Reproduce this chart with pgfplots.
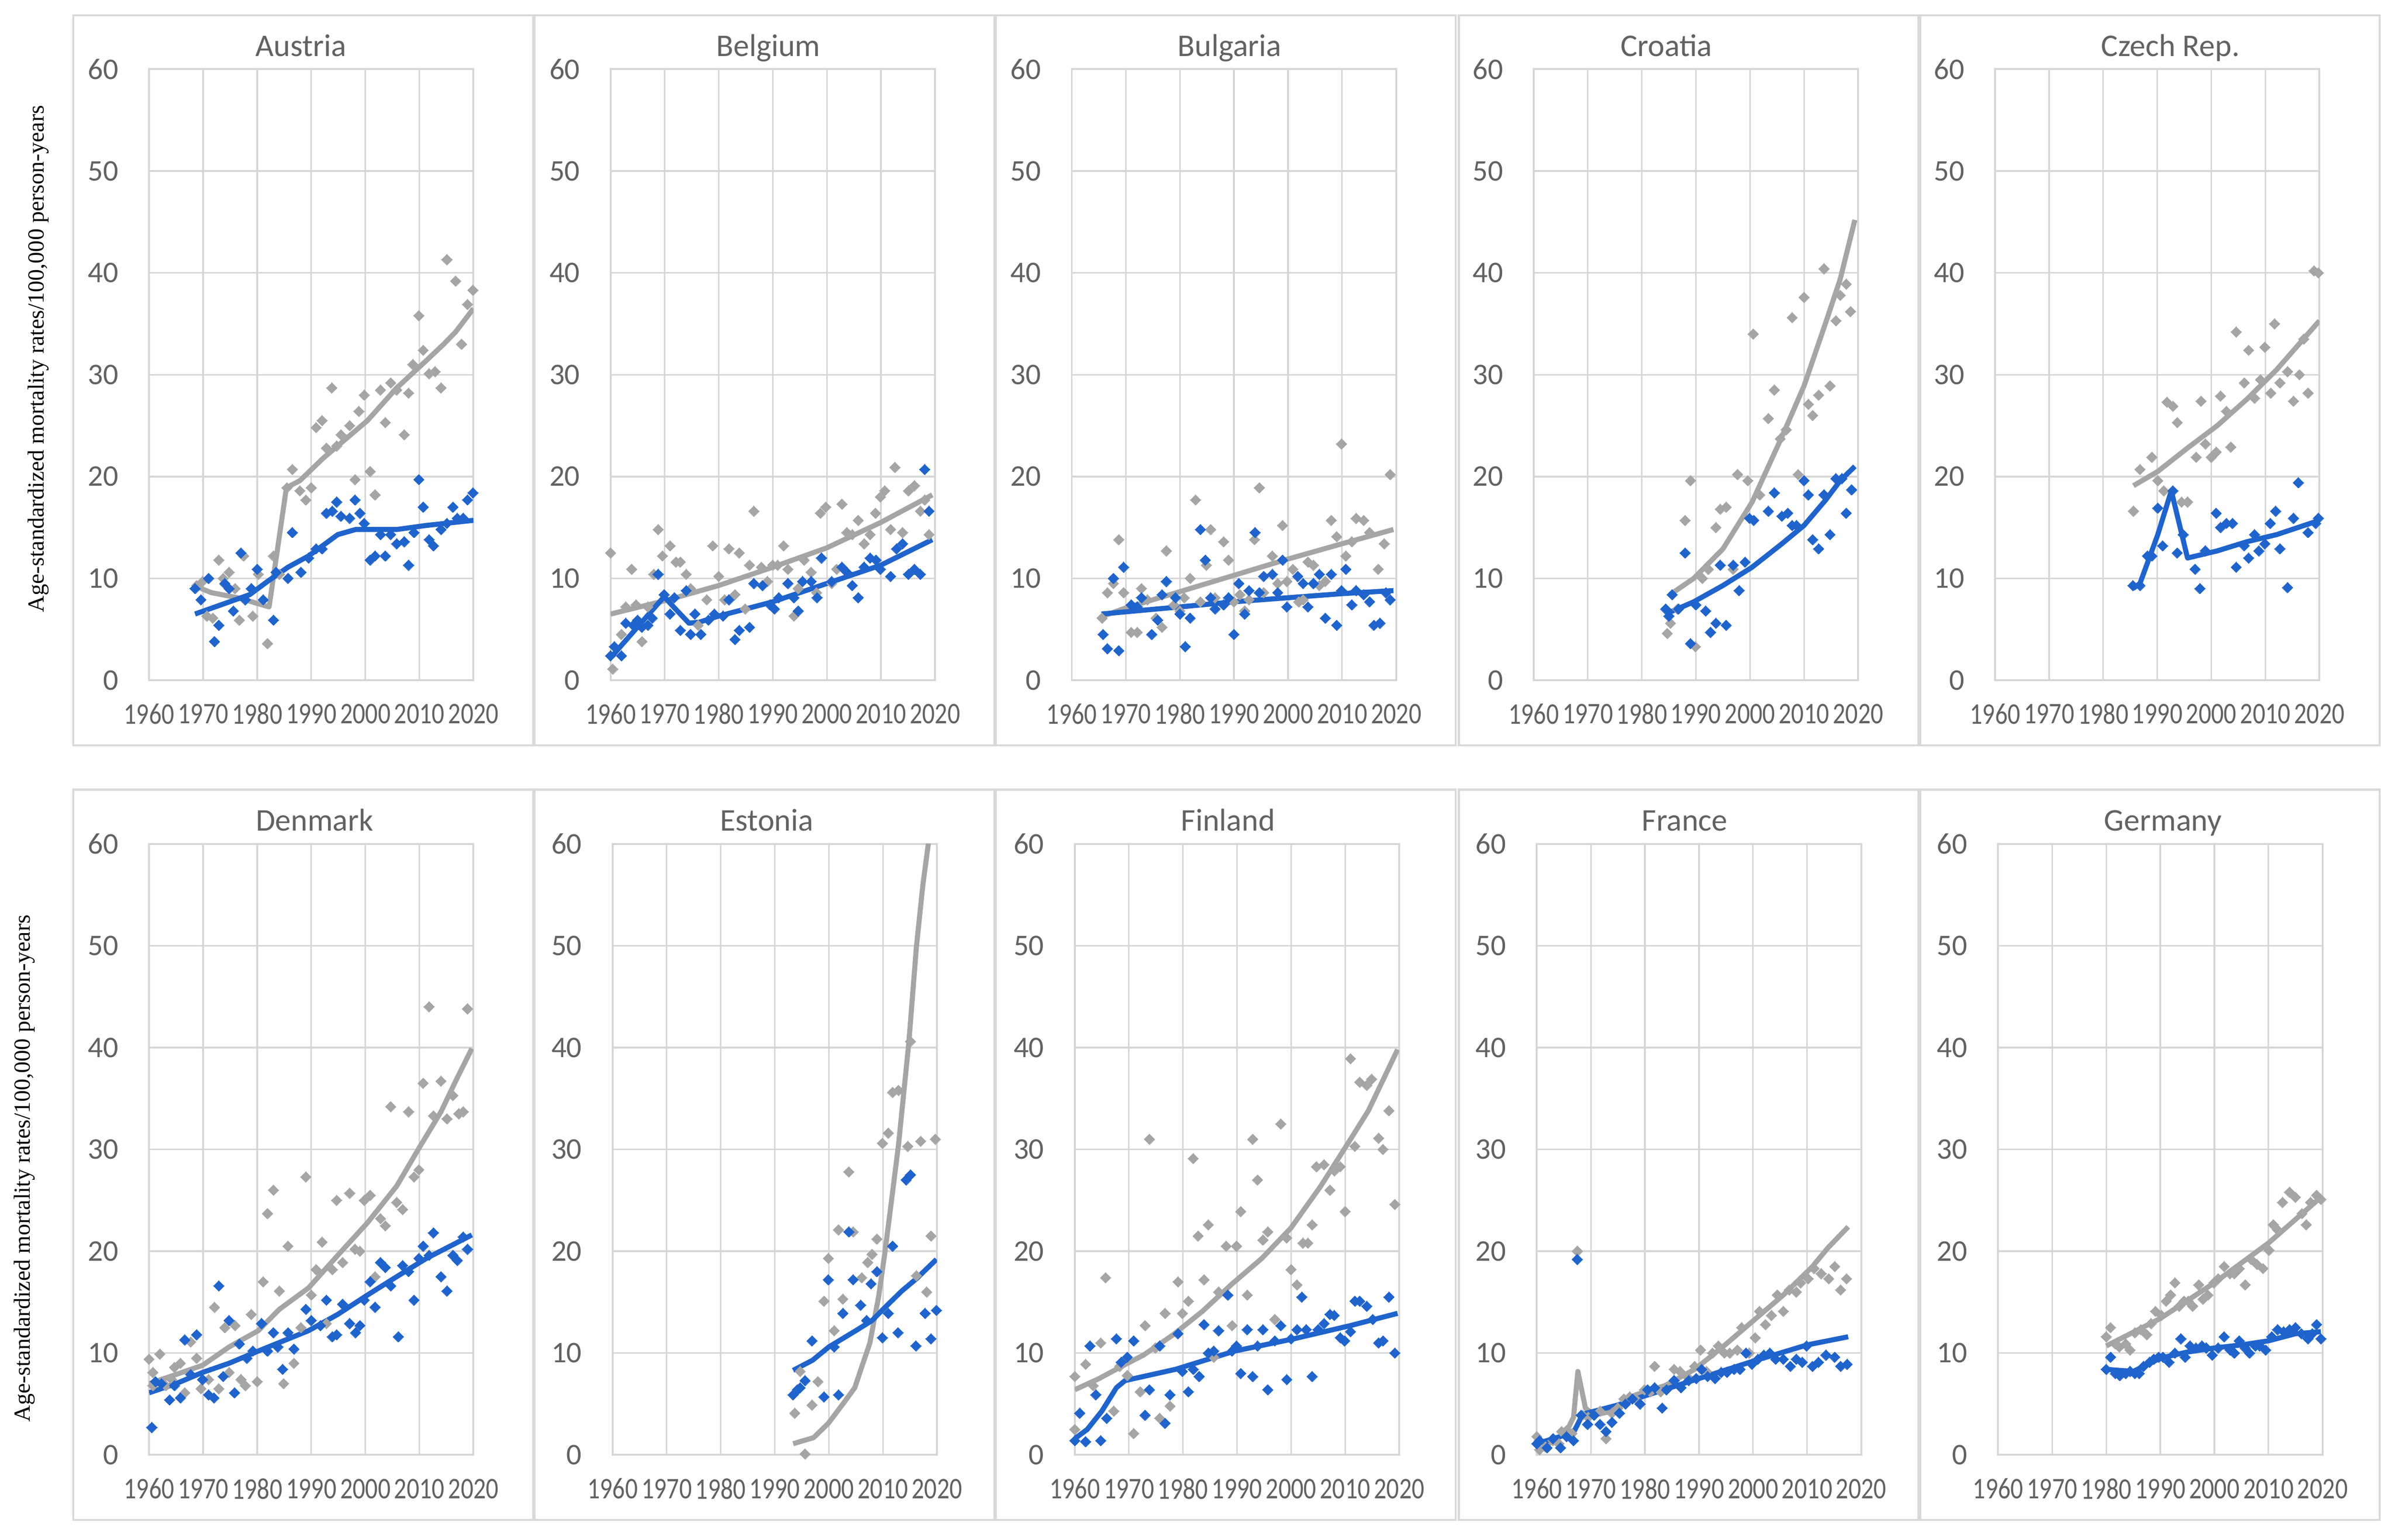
\documentclass[border=0pt]{standalone}
\usepackage{pgfplots}
\pgfplotsset{compat=1.18}
\usepackage{fontspec}
\setmainfont{Carlito}
\newfontfamily\ylfont{Liberation Serif}

\definecolor{gser}{HTML}{A5A5A5}
\definecolor{bser}{HTML}{1F63CC}
\definecolor{gridc}{HTML}{D6D6D6}
\definecolor{tickc}{HTML}{626262}
\definecolor{framec}{HTML}{D9D9D9}

\pgfplotsset{
  panel/.style={
    scale only axis, width=3.61cm, height=6.80cm, anchor=south west,
    xmin=1960, xmax=2020, ymin=0, ymax=60,
    xtick={1960,1970,...,2020}, ytick={0,10,...,60},
    xticklabels={1960,1970,1980,1990,2000,2010,2020},
    grid=major, major grid style={draw=gridc, line width=0.5pt},
    axis line style={draw=gridc, line width=0.6pt},
    tick style={draw=none},
    /pgf/number format/assume math mode=true,
    ticklabel style={font=\fontsize{9.5}{10}\selectfont, text=tickc, inner sep=0pt},
    xticklabel style={anchor=center, yshift=-0.376cm, xscale=0.83},
    yticklabel style={anchor=east, xshift=-0.335cm},
  },
  gpt/.style={only marks, mark=square*, mark size=1.2pt, color=gser, mark options={rotate=45, fill=gser, draw=gser, line width=0pt}},
  bpt/.style={only marks, mark=square*, mark size=1.2pt, color=bser, mark options={rotate=45, fill=bser, draw=bser, line width=0pt}},
  gln/.style={no marks, color=gser, line width=1.6pt, line join=round},
  bln/.style={no marks, color=bser, line width=1.6pt, line join=round},
}

\begin{document}
\begin{tikzpicture}

\begin{scope}[x=0.017cm, y=-0.017cm, yshift=17.136cm,
    ttl/.style={text=tickc, font=\fontsize{10}{12}\selectfont, text height=1.6ex, text depth=0.45ex}]
  \path[use as bounding box] (0,0) rectangle (1568,1008);
  \foreach \xx in {48,350,652,955,1257} {
    \draw[framec, line width=0.7pt] (\xx,10) rectangle ++(301,478);
    \draw[framec, line width=0.7pt] (\xx,517) rectangle ++(301,478);
  }
  \node[ttl] at (197,31.3) {Austria};
  \node[ttl] at (503,31.3) {Belgium};
  \node[ttl] at (805,31.3) {Bulgaria};
  \node[ttl] at (1091,31.3) {Croatia};
  \node[ttl] at (1421,31.3) {Czech Rep.};
  \node[ttl] at (206,538.4) {Denmark};
  \node[ttl] at (502,538.4) {Estonia};
  \node[ttl] at (804,538.4) {Finland};
  \node[ttl] at (1103,538.4) {France};
  \node[ttl] at (1416,538.4) {Germany};
  \node[rotate=90, font=\ylfont\fontsize{7.3}{8}\selectfont] at (25,235) {Age-standardized mortality rates/100,000 person-years};
  \node[rotate=90, font=\ylfont\fontsize{7.3}{8}\selectfont] at (16,765) {Age-standardized mortality rates/100,000 person-years};
\end{scope}

% ---------------- Austria
\begin{axis}[panel, at={(1.659cm,9.566cm)}]
\addplot[gpt] coordinates {(1968.8,9.3)(1969.9,9.7)(1970.7,6.3)(1971.8,6.1)(1972.9,11.8)(1973.7,10.0)(1974.8,10.6)(1975.9,9.0)(1976.7,5.9)(1977.5,12.2)(1979.2,6.3)(1980.2,10.4)(1981.9,3.6)(1983.0,12.2)(1984.1,10.4)(1985.5,18.9)(1986.5,20.7)(1987.9,18.6)(1989.0,17.7)(1990.0,18.9)(1990.9,24.8)(1992.0,25.5)(1992.8,22.8)(1993.8,28.7)(1994.7,23.0)(1995.5,24.1)(1997.1,25.0)(1998.1,19.7)(1998.8,26.4)(1999.8,28.0)(2000.9,20.5)(2001.8,18.2)(2002.8,28.5)(2003.7,25.3)(2004.7,29.2)(2005.8,28.5)(2007.2,24.1)(2008.0,28.2)(2008.8,31.0)(2009.9,35.8)(2010.7,32.4)(2011.8,30.1)(2012.9,30.3)(2014.0,28.7)(2015.1,41.3)(2016.7,39.2)(2017.8,33.0)(2018.9,36.9)(2019.9,38.3)};
\addplot[bpt] coordinates {(1968.5,9.0)(1969.6,7.9)(1971.0,10.0)(1972.1,3.8)(1972.9,5.4)(1974.0,9.5)(1974.8,9.0)(1975.6,6.8)(1977.0,12.5)(1977.8,7.9)(1978.9,9.0)(1980.0,10.9)(1981.1,7.9)(1983.0,5.9)(1983.5,10.6)(1985.7,10.0)(1986.5,14.5)(1988.1,10.6)(1989.5,12.0)(1990.9,12.9)(1992.0,12.9)(1992.8,16.4)(1993.9,16.6)(1994.7,17.5)(1995.5,16.1)(1997.1,15.9)(1998.1,17.7)(1999.0,16.4)(1999.8,15.4)(2000.9,11.8)(2001.8,12.2)(2002.8,14.3)(2003.7,12.2)(2004.7,14.3)(2005.8,13.4)(2007.2,13.6)(2008.0,11.3)(2009.0,14.5)(2009.9,19.7)(2010.7,17.0)(2011.8,13.8)(2012.6,13.2)(2014.0,14.8)(2015.1,15.4)(2016.2,17.0)(2017.0,15.9)(2018.1,15.9)(2018.9,17.7)(2019.9,18.4)};
\addplot[gln] coordinates {(1968.3,9.3)(1971.5,8.6)(1976.4,8.1)(1982.2,7.2)(1985.4,18.9)(1987.9,19.6)(1992.2,21.8)(2000.4,25.5)(2005.8,28.7)(2011.3,31.4)(2014.5,33.0)(2016.7,34.2)(2020,36.5)};
\addplot[bln] coordinates {(1968.5,6.5)(1978.6,8.4)(1981.9,9.7)(1985.7,11.1)(1989.5,12.2)(1994.9,14.3)(1998.2,14.8)(2005.8,14.8)(2011.3,15.2)(2020,15.7)};
\end{axis}

% ---------------- Belgium
\begin{axis}[panel, at={(6.795cm,9.566cm)}]
\addplot[gpt] coordinates {(1960,12.5)(1960.4,1.1)(1962,4.5)(1962.8,7.2)(1963.9,10.9)(1964.7,7.4)(1965.8,3.8)(1966.9,7.2)(1968,10.4)(1968.8,14.8)(1969.6,12.2)(1971,13.2)(1972.1,11.6)(1972.9,11.6)(1974,10.4)(1974.8,9.0)(1976.2,5.4)(1977.8,7.9)(1978.9,13.2)(1980,10.2)(1981.1,7.9)(1981.9,12.9)(1983,8.4)(1983.8,12.5)(1984.9,7.0)(1985.7,11.3)(1986.5,16.6)(1987.9,11.1)(1989,9.7)(1990,11.3)(1990.9,11.3)(1992,13.2)(1992.8,10.9)(1993.9,6.3)(1994.7,9.0)(1995.8,11.8)(1997.1,10.6)(1998.1,8.6)(1998.8,16.4)(1999.8,17.0)(2000.9,9.5)(2001.8,10.9)(2002.8,17.3)(2003.7,14.5)(2004.7,14.3)(2005.8,15.7)(2006.9,13.4)(2008,14.3)(2009,16.4)(2009.9,18.0)(2010.7,18.6)(2011.8,14.8)(2012.6,20.9)(2014,14.5)(2015.1,18.6)(2016.2,19.1)(2017.3,16.6)(2018.1,17.7)(2018.9,14.3)};
\addplot[bpt] coordinates {(1960,2.4)(1960.7,3.3)(1962,2.4)(1962.8,5.6)(1964.2,5.4)(1965,5.9)(1965.8,5.2)(1966.9,5.4)(1967.7,6.1)(1968.8,10.4)(1969.9,8.4)(1971,6.5)(1971.8,8.1)(1972.9,4.9)(1974,8.8)(1974.8,4.5)(1975.6,6.5)(1976.7,4.5)(1978.1,5.9)(1979.2,6.5)(1980.8,6.3)(1981.9,7.9)(1983,4.0)(1983.8,4.9)(1985.7,5.2)(1986.5,9.5)(1988.1,9.3)(1989.5,7.4)(1990.3,7.0)(1991.1,8.1)(1992.8,9.5)(1993.9,8.1)(1994.7,6.8)(1995.5,9.7)(1997.1,9.7)(1998.2,8.1)(1999,12.0)(2000.9,9.7)(2002.8,11.1)(2003.7,10.6)(2004.7,9.3)(2005.8,8.1)(2006.9,11.1)(2008,12.0)(2009.1,11.8)(2009.9,10.9)(2011.8,10.2)(2012.9,12.9)(2014,13.4)(2015.1,10.4)(2016.2,10.9)(2017.3,10.4)(2018.1,20.7)(2018.9,16.6)};
\addplot[gln] coordinates {(1960,6.5)(1970,7.8)(1980,9.3)(1990,11.1)(2000,13.0)(2010,15.5)(2019.5,18.2)};
\addplot[bln] coordinates {(1960,2.2)(1962.3,3.6)(1969.9,8.2)(1972,7.0)(1974.5,5.6)(1976.4,5.7)(1980,6.3)(1990,7.7)(2000,9.5)(2010,11.3)(2019.5,13.8)};
\end{axis}

% ---------------- Bulgaria
\begin{axis}[panel, at={(11.927cm,9.566cm)}]
\addplot[gpt] coordinates {(1965.6,6.1)(1966.6,8.6)(1967.7,9.5)(1968.7,13.8)(1969.6,8.6)(1971,4.7)(1972.1,4.7)(1972.9,9.0)(1974,7.9)(1975.6,6.1)(1976.7,5.2)(1977.5,12.7)(1978.9,7.4)(1980,6.8)(1980.8,8.1)(1981.9,10.0)(1982.9,17.7)(1983.8,7.7)(1984.9,11.3)(1985.7,14.8)(1986.5,8.1)(1988.1,13.6)(1989,11.8)(1990,7.7)(1991.1,8.4)(1992,6.8)(1992.8,7.9)(1993.8,13.8)(1994.7,18.9)(1995.5,8.6)(1997.1,12.2)(1998.1,9.5)(1999,15.2)(1999.8,9.7)(2000.9,10.9)(2002,7.7)(2002.8,7.9)(2003.7,11.6)(2004.7,11.3)(2005.8,9.3)(2006.9,9.7)(2008,15.7)(2009,14.1)(2009.9,23.2)(2010.7,12.2)(2011.8,13.6)(2012.6,15.9)(2014,15.7)(2015.1,14.5)(2016.7,10.9)(2017.8,13.4)(2018.9,20.2)};
\addplot[bpt] coordinates {(1965.8,4.5)(1966.6,3.1)(1967.7,10.0)(1968.7,2.9)(1969.6,11.1)(1971,7.4)(1972.1,7.2)(1972.9,8.1)(1974.8,4.5)(1975.9,5.9)(1976.7,8.4)(1977.5,9.7)(1979.2,8.1)(1980,6.5)(1981,3.3)(1981.9,6.1)(1983.8,14.8)(1984.7,11.8)(1985.7,8.1)(1986.5,7.0)(1988.1,7.4)(1989,8.1)(1990,4.5)(1990.9,9.5)(1992,6.5)(1992.8,8.8)(1993.9,14.5)(1994.7,8.6)(1995.5,10.2)(1997.1,10.4)(1998.1,8.6)(1999,11.8)(1999.8,7.2)(2001.8,10.2)(2002.8,9.5)(2003.7,7.2)(2004.7,9.5)(2005.8,10.4)(2006.9,6.1)(2008,10.4)(2009,5.4)(2009.9,8.8)(2010.7,10.9)(2011.8,7.4)(2012.6,8.8)(2014,8.4)(2015.1,7.7)(2015.9,5.4)(2017,5.6)(2018.1,8.6)(2018.9,7.9)};
\addplot[gln] coordinates {(1965.3,6.2)(1970,7.1)(1980,8.7)(1990,10.3)(2000,11.9)(2010,13.4)(2019.5,14.8)};
\addplot[bln] coordinates {(1965.5,6.5)(1980,7.2)(1990,7.7)(2000,8.1)(2010,8.5)(2019.5,8.8)};
\end{axis}

% ---------------- Croatia
\begin{axis}[panel, at={(17.068cm,9.566cm)}]
\addplot[gpt] coordinates {(1984.7,4.6)(1985.3,5.6)(1986.6,7.0)(1988,15.7)(1989,19.6)(1989.9,3.3)(1991.2,10.0)(1992.3,10.9)(1993.7,15.0)(1994.5,16.8)(1995.6,17.0)(1996.9,10.9)(1997.7,20.2)(1999.6,19.6)(2000.6,34.0)(2001.8,18.2)(2003.4,25.7)(2004.5,28.5)(2005.6,23.7)(2006.7,24.6)(2007.8,35.6)(2008.9,20.2)(2010,37.6)(2010.8,27.1)(2011.6,26.0)(2012.7,28.0)(2013.7,40.4)(2014.8,28.9)(2015.9,35.3)(2016.7,37.8)(2017.8,38.9)(2018.6,36.2)};
\addplot[bpt] coordinates {(1984.4,7.0)(1985,6.3)(1985.6,8.4)(1986.8,7.0)(1988,12.5)(1989,3.6)(1990,7.4)(1991.8,6.8)(1992.7,4.7)(1993.7,5.6)(1994.5,11.3)(1995.6,5.4)(1996.9,11.3)(1998,8.8)(1999.1,11.6)(1999.9,15.9)(2000.7,15.7)(2003.4,16.6)(2004.5,18.4)(2005.9,16.1)(2007,16.4)(2007.8,15.2)(2008.6,15.2)(2010,19.6)(2010.8,18.2)(2011.6,13.8)(2012.7,12.9)(2013.7,18.2)(2014.8,14.3)(2015.9,19.8)(2017,19.8)(2017.8,16.4)(2018.8,18.7)};
\addplot[gln] coordinates {(1985.2,8.4)(1989.6,10.0)(1995,12.9)(2000.4,17.5)(2005.9,23.9)(2010,28.9)(2014,35.1)(2016.7,39.4)(2019.4,45.2)};
\addplot[bln] coordinates {(1984.4,6.5)(1989.6,7.7)(1995,9.3)(2000.4,11.1)(2005.9,13.4)(2010,15.2)(2014,17.7)(2016.7,19.6)(2019.4,21.0)};
\end{axis}

% ---------------- Czech Rep.
\begin{axis}[panel, at={(22.202cm,9.566cm)}]
\addplot[gpt] coordinates {(1985.6,16.6)(1986.8,20.7)(1989,21.9)(1990.1,19.6)(1991.2,18.6)(1991.8,27.3)(1992.9,26.9)(1993.7,25.3)(1994.5,17.5)(1995.6,17.5)(1997.2,21.9)(1998.1,27.4)(1998.9,23.2)(2000,21.9)(2000.9,22.4)(2001.7,27.9)(2002.8,26.4)(2003.6,22.9)(2004.6,34.2)(2006.1,29.2)(2006.9,32.4)(2008,27.7)(2009.1,29.5)(2009.9,32.7)(2011,28.2)(2011.7,35.0)(2012.7,29.2)(2014.1,30.3)(2015.2,27.4)(2016.3,30.0)(2017.1,33.5)(2017.9,28.2)(2019,40.2)(2019.8,40.0)};
\addplot[bpt] coordinates {(1985.5,9.3)(1986.8,9.3)(1988.2,12.2)(1989,12.2)(1990.1,16.9)(1991,13.2)(1992.9,18.6)(1993.7,12.5)(1994.8,14.3)(1997,10.9)(1997.9,9.0)(1998.9,12.7)(2000.9,16.4)(2001.7,15.0)(2002.8,15.4)(2003.9,15.4)(2004.6,11.1)(2006.1,13.2)(2006.9,12.0)(2008,14.3)(2008.8,12.7)(2009.9,13.4)(2010.9,15.4)(2011.9,16.6)(2012.7,12.9)(2014.1,9.1)(2015.2,15.9)(2016.1,19.4)(2017.9,14.5)(2019.3,15.4)(2019.8,15.9)};
\addplot[gln] coordinates {(1985.6,19.1)(1990.1,20.5)(1995.6,22.8)(2001.1,25.0)(2006.6,27.6)(2012.1,30.5)(2020,35.3)};
\addplot[bln] coordinates {(1985.5,9.0)(1986.8,9.5)(1990.1,14.3)(1992.6,18.6)(1995.6,12.0)(2001.1,12.7)(2006.6,13.6)(2012.1,14.3)(2020,15.7)};
\end{axis}

% ---------------- Denmark
\begin{axis}[panel, at={(1.659cm,0.945cm)}]
\addplot[gpt] coordinates {(1960,9.4)(1960.7,8.1)(1960.7,6.8)(1962,9.9)(1963.1,6.8)(1964.2,7.4)(1964.7,8.6)(1965.8,9.0)(1966.6,6.1)(1967.7,11.1)(1968.8,9.5)(1969.6,6.5)(1971,7.4)(1972.1,14.5)(1972.9,6.5)(1974,12.5)(1974.8,8.1)(1975.9,12.7)(1977,7.4)(1977.8,6.8)(1978.9,13.8)(1980,7.2)(1981.1,17.0)(1981.9,23.7)(1983,26.0)(1984.1,16.1)(1984.9,7.0)(1985.7,20.5)(1986.8,9.0)(1988.1,12.5)(1989,27.3)(1990,15.7)(1990.9,18.2)(1992,20.9)(1992.8,12.9)(1993.9,18.2)(1994.7,25.0)(1995.8,18.9)(1997.1,25.7)(1998.1,20.2)(1999,20.0)(1999.8,25.0)(2000.9,25.5)(2001.8,17.5)(2002.8,23.2)(2003.7,22.5)(2004.7,34.2)(2005.8,24.8)(2006.9,24.1)(2008,33.7)(2009,27.3)(2009.9,28.0)(2010.7,36.5)(2011.8,44.0)(2012.6,33.3)(2014,36.7)(2015.1,33.0)(2016.2,35.3)(2017.3,33.5)(2018.1,33.7)(2018.9,43.8)};
\addplot[bpt] coordinates {(1960.5,2.7)(1961.2,7.2)(1962.3,7.0)(1963.8,5.4)(1964.7,6.8)(1965.8,5.6)(1966.6,11.3)(1967.7,7.9)(1968.8,11.8)(1969.9,7.4)(1971,5.9)(1972,5.6)(1972.9,16.6)(1973.7,7.7)(1974.8,13.2)(1975.8,6.1)(1976.7,10.9)(1978.1,9.5)(1979.2,10.2)(1980.8,12.9)(1981.9,10.2)(1983,12.0)(1983.8,10.6)(1984.7,8.4)(1985.7,12.0)(1986.8,10.4)(1989,14.3)(1990,13.2)(1991.7,12.7)(1992.8,15.2)(1993.9,11.6)(1994.7,11.8)(1995.8,14.8)(1997.1,12.9)(1998.2,12.0)(1999,12.7)(1999.8,15.2)(2000.9,17.0)(2001.8,14.5)(2002.8,18.9)(2003.7,18.4)(2004.7,16.6)(2006.1,11.6)(2006.9,18.6)(2008,18.0)(2009,15.2)(2009.9,19.3)(2010.7,20.5)(2011.8,19.6)(2012.6,21.8)(2014,17.5)(2015.1,16.1)(2016.2,19.6)(2017,19.1)(2018.1,21.4)(2018.9,20.2)};
\addplot[gln] coordinates {(1960,7.0)(1965,7.9)(1969.9,8.8)(1974.8,10.6)(1980.2,12.2)(1984.1,14.3)(1989.5,16.4)(1994.9,19.6)(2000.4,22.8)(2005.8,26.4)(2009.9,30.1)(2014,33.7)(2016.7,36.7)(2019.7,39.9)};
\addplot[bln] coordinates {(1960,6.1)(1965,7.0)(1969.9,8.1)(1974.8,9.0)(1980.2,10.2)(1989.5,12.2)(1994.9,13.8)(2000.4,15.7)(2005.8,17.5)(2011.3,19.3)(2019.7,21.6)};
\end{axis}

% ---------------- Estonia
\begin{axis}[panel, at={(6.817cm,0.945cm)}]
\addplot[gpt] coordinates {(1993.7,4.1)(1994.7,8.2)(1995.6,0.1)(1996.9,4.9)(1998,7.2)(1999.1,15.1)(1999.9,19.3)(2001,12.2)(2001.8,22.1)(2002.6,15.3)(2003.7,27.8)(2004.5,21.9)(2006.1,17.4)(2007.2,18.9)(2008,19.7)(2008.9,21.2)(2009.9,30.6)(2011,31.6)(2011.8,35.6)(2012.9,35.8)(2014.6,30.3)(2015.1,40.6)(2016.2,17.6)(2017,30.8)(2018.1,16.0)(2018.9,21.5)(2019.7,31.0)};
\addplot[bpt] coordinates {(1993.4,5.9)(1994.2,6.4)(1994.7,6.6)(1995.6,7.3)(1996.9,11.2)(1999.1,5.7)(1999.9,17.2)(2001,10.6)(2001.8,5.9)(2002.6,13.9)(2003.7,21.9)(2004.5,17.2)(2005.9,14.7)(2007,13.2)(2007.8,16.8)(2008.9,18.0)(2009.9,11.5)(2011,13.9)(2011.8,20.5)(2012.8,12.0)(2014.3,27.0)(2015.1,27.5)(2016.1,10.7)(2017.8,13.9)(2018.9,11.4)(2019.9,14.2)};
\addplot[gln] coordinates {(1993.4,1.1)(1997.2,1.7)(1999.9,3.1)(2002.6,5.0)(2004.8,6.6)(2006.0,8.5)(2007.6,11.0)(2008.3,13.0)(2009.2,15.5)(2010.3,19.6)(2011.6,25.0)(2012.9,30.5)(2014.8,40.5)(2016.2,49.9)(2017.4,56.0)(2018.4,60.0)(2019,64.0)};
\addplot[bln] coordinates {(1993.4,8.3)(1997,9.3)(2000,10.6)(2005.3,12.3)(2008,13.2)(2010.8,14.7)(2013.5,16.1)(2016.2,17.3)(2019.9,19.2)};
\end{axis}

% ---------------- Finland
\begin{axis}[panel, at={(11.961cm,0.945cm)}]
\addplot[gpt] coordinates {(1960,7.7)(1960,2.5)(1962,8.9)(1963.4,6.8)(1964.8,11.0)(1965.7,17.4)(1967.2,4.3)(1968.3,8.7)(1969.7,7.8)(1970.9,2.1)(1972.1,6.2)(1973,12.7)(1973.8,31.0)(1974.9,10.5)(1975.7,3.6)(1976.7,13.9)(1977.6,4.8)(1979.1,17.0)(1979.9,13.9)(1981,15.1)(1981.9,29.1)(1982.8,21.5)(1983.9,17.2)(1984.7,22.6)(1985.7,9.6)(1986.6,16.0)(1988,20.5)(1989.1,12.7)(1989.9,20.5)(1990.7,23.9)(1991.9,15.7)(1992.9,31.0)(1993.8,27.0)(1994.8,21.1)(1995.7,21.9)(1997,13.3)(1998.1,32.5)(1999.2,21.3)(2000,18.2)(2001.1,16.7)(2002.2,20.8)(2003.1,20.8)(2003.9,22.6)(2004.7,28.3)(2006.1,28.5)(2007.2,26.0)(2008,27.9)(2009.1,28.3)(2010,23.9)(2011,38.9)(2011.8,30.3)(2012.7,36.6)(2014,36.3)(2014.9,36.9)(2016.2,31.1)(2017,30.0)(2018.1,33.8)(2019.2,24.6)};
\addplot[bpt] coordinates {(1960,1.4)(1960.9,4.1)(1962,1.3)(1962.8,10.7)(1963.9,5.9)(1964.8,1.4)(1965.9,3.6)(1967.7,11.4)(1968.6,9.1)(1969.7,9.6)(1970.9,11.2)(1973,3.9)(1973.8,6.4)(1975.7,10.7)(1976.7,3.1)(1977.6,5.9)(1979.1,11.9)(1979.9,8.2)(1981,6.2)(1981.9,8.4)(1983,7.7)(1983.9,12.8)(1984.7,10.0)(1985.7,10.2)(1986.6,12.2)(1988.3,15.7)(1989.1,10.2)(1989.9,10.7)(1990.7,8.0)(1991.9,12.3)(1992.9,7.7)(1993.8,10.7)(1994.8,12.3)(1995.7,6.4)(1997,11.2)(1998.1,12.7)(1999.2,7.4)(2000,11.4)(2001.1,12.3)(2002,15.5)(2002.8,12.3)(2003.9,7.7)(2005,12.3)(2006.1,12.9)(2007.2,13.8)(2008,13.7)(2009.1,11.5)(2009.9,11.2)(2011,12.1)(2011.8,15.1)(2012.7,15.1)(2014,14.6)(2015.1,13.3)(2016.2,11.0)(2017,11.2)(2018.1,15.5)(2019.2,10.0)};
\addplot[gln] coordinates {(1960,6.4)(1964.5,7.5)(1969.4,8.9)(1972.7,9.8)(1978.2,11.8)(1983.6,14.1)(1989.1,16.8)(1994.6,19.3)(2000,22.3)(2005.5,26.4)(2011,31.0)(2014.3,33.8)(2019.7,39.8)};
\addplot[bln] coordinates {(1960,1.6)(1962.3,2.5)(1965,4.3)(1967.7,6.6)(1969.3,7.3)(1978.6,8.4)(1989.6,10.2)(2000.5,11.4)(2011,12.7)(2019.7,13.9)};
\end{axis}

% ---------------- France
\begin{axis}[panel, at={(17.102cm,0.945cm)}]
\addplot[gpt] coordinates {(1960,1.8)(1960.5,0.5)(1961.6,0.8)(1963,1.4)(1964.1,1.1)(1964.6,2.3)(1965.5,2.4)(1966.5,2.1)(1967.5,20.0)(1968.5,3.9)(1969.5,3.7)(1970.6,3.9)(1971.7,4.3)(1972.8,1.6)(1973.9,4.1)(1975,4.6)(1976.1,5.5)(1977.2,5.7)(1978.3,5.5)(1979.9,6.4)(1981,6.2)(1981.8,8.7)(1982.9,6.2)(1984,6.4)(1985.4,8.4)(1986.5,8.2)(1987.8,7.7)(1989.2,8.7)(1990.3,10.3)(1991.4,8.2)(1992.5,10.0)(1993.6,10.7)(1994.7,10.0)(1995.7,10.0)(1997.1,10.3)(1997.9,12.5)(1999.3,10.0)(2000.4,11.5)(2001.2,14.1)(2002.3,12.8)(2003.4,13.7)(2004.5,15.7)(2005.6,14.1)(2006.7,16.2)(2008,16.0)(2008.8,16.9)(2010.2,17.3)(2011.3,18.3)(2012.6,17.8)(2014,17.3)(2015.1,18.5)(2016.2,16.2)(2017.3,17.3)};
\addplot[bpt] coordinates {(1960,1.1)(1960.5,1.4)(1961.9,0.7)(1963,1.6)(1964.4,0.7)(1965.5,1.8)(1966.8,1.4)(1967.5,19.2)(1968.2,3.9)(1969.4,3.0)(1970.6,3.9)(1971.7,3.0)(1972.8,2.3)(1973.9,3.2)(1975.3,4.1)(1976.4,5.0)(1977.7,5.5)(1979.1,5.0)(1980.5,6.4)(1981.8,6.6)(1983.2,4.6)(1984,6.4)(1985.4,7.3)(1986.7,6.6)(1988.1,7.3)(1989.5,7.5)(1990.5,8.4)(1991.6,7.7)(1993,7.5)(1994.1,8.1)(1995.2,8.1)(1996.5,8.4)(1997.6,8.4)(1998.7,10.0)(1999.8,8.9)(2000.9,9.4)(2002,9.8)(2003.1,10.0)(2004.2,9.4)(2005.6,9.4)(2006.9,8.7)(2008,9.4)(2009.1,9.1)(2009.9,10.7)(2011,8.7)(2012.1,9.1)(2013.5,9.8)(2015.1,9.6)(2016.2,8.7)(2017.4,8.9)};
\addplot[gln] coordinates {(1960,1.4)(1962.3,1.1)(1965.5,2.3)(1966.8,3.7)(1967.6,8.2)(1969,4.6)(1970.6,3.9)(1973.9,4.3)(1978.3,5.9)(1983.7,6.8)(1989.2,8.4)(1994.6,10.7)(2000.1,13.2)(2005.6,15.7)(2011,18.5)(2013.8,20.3)(2017.6,22.4)};
\addplot[bln] coordinates {(1960,1.1)(1966.8,2.2)(1968.5,4.0)(1975,4.9)(1980,5.8)(1990,7.5)(2000,9.2)(2010,10.8)(2017.6,11.6)};
\end{axis}

% ---------------- Germany
\begin{axis}[panel, at={(22.236cm,0.945cm)}]
\addplot[gpt] coordinates {(1980,11.6)(1980.8,12.5)(1981.7,10.9)(1982.4,10.6)(1983.6,10.9)(1984.4,10.3)(1985.3,12.0)(1986.4,12.3)(1987.5,11.8)(1988.3,12.9)(1989.1,14.1)(1990.2,13.7)(1991.1,15.1)(1991.9,15.7)(1992.7,16.9)(1993.5,14.6)(1994.4,15.1)(1995.2,15.1)(1996,14.6)(1997.1,16.7)(1997.9,15.3)(1998.8,15.7)(1999.9,16.9)(2000.7,17.3)(2001.8,18.5)(2002.9,17.8)(2003.7,17.8)(2004.6,18.3)(2005.7,16.7)(2006.8,19.2)(2007.9,18.7)(2009,18.3)(2010.1,20.1)(2010.9,22.6)(2011.7,22.1)(2012.6,24.8)(2013.9,25.8)(2015,25.3)(2016.2,23.7)(2017,22.6)(2017.8,24.8)(2018.9,25.5)(2019.7,25.1)};
\addplot[bpt] coordinates {(1980,8.4)(1980.8,9.6)(1981.7,8.0)(1982.5,7.8)(1983.6,8.0)(1984.4,8.2)(1985.3,8.0)(1986.1,8.0)(1986.9,8.7)(1988,9.1)(1988.8,9.4)(1989.7,9.6)(1990.5,9.6)(1991.6,9.1)(1992.7,10.0)(1993.8,11.4)(1994.6,9.6)(1995.5,10.7)(1996.6,10.5)(1997.7,10.7)(1998.5,10.5)(1999.6,9.8)(2000.7,10.5)(2001.8,11.6)(2002.9,10.3)(2003.7,10.0)(2004.6,11.2)(2005.7,10.5)(2006.5,10.0)(2007.6,10.7)(2008.4,10.7)(2009.5,10.3)(2010.6,11.6)(2011.7,12.3)(2012.8,12.1)(2013.9,12.3)(2015,12.5)(2016.1,11.9)(2017.3,11.4)(2018.1,11.9)(2018.9,12.8)(2019.7,11.4)};
\addplot[gln] coordinates {(1980,10.7)(1990,13.4)(2000,16.9)(2010,20.8)(2019.7,25.3)};
\addplot[bln] coordinates {(1980,8.4)(1985,8.2)(1990,9.5)(1995,10.1)(2000,10.5)(2005,10.8)(2010,11.2)(2015,11.9)(2019.7,12.1)};
\end{axis}

\end{tikzpicture}
\end{document}
